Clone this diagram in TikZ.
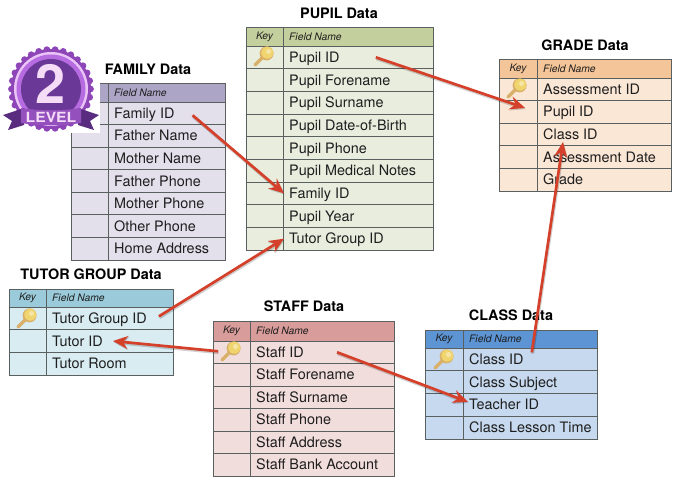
\documentclass[tikz,border=0pt]{standalone}
\usepackage{fontspec}
\setmainfont{TeX Gyre Heros}
\usetikzlibrary{arrows.meta,calc}
\definecolor{gridc}{HTML}{5A5F5F}
\definecolor{linkred}{HTML}{D5402A}
\definecolor{txt}{HTML}{1E1E1E}
\definecolor{keygold}{HTML}{F0D56E}
\definecolor{keytan}{HTML}{D9B06A}
\definecolor{HdrP}{HTML}{C3CF9C}\definecolor{RowP}{HTML}{E9EDDE}
\definecolor{HdrF}{HTML}{ADA5C6}\definecolor{RowF}{HTML}{E3E0EC}
\definecolor{HdrG}{HTML}{F4C598}\definecolor{RowG}{HTML}{FBE7D6}
\definecolor{HdrT}{HTML}{9BCBDA}\definecolor{RowT}{HTML}{D8ECF2}
\definecolor{HdrS}{HTML}{D89C9A}\definecolor{RowS}{HTML}{F1DDDB}
\definecolor{HdrC}{HTML}{5C94D4}\definecolor{RowC}{HTML}{C7D9EF}
\definecolor{bdgA}{HTML}{B66BE0}\definecolor{bdgB}{HTML}{EBC4F7}
\definecolor{bdgC}{HTML}{8D45B8}\definecolor{bdgD}{HTML}{6A3896}
\definecolor{bdgE}{HTML}{5A2C80}\definecolor{bdgL}{HTML}{F5DDF8}
\definecolor{bdgR}{HTML}{9450BC}
\tikzset{
  x=1pt,y=-1pt,
  fieldtxt/.style={anchor=west,inner sep=0pt,text height=13pt,text depth=3pt,font=\fontsize{14.4}{16}\selectfont,text=txt},
  headtxt/.style={inner sep=0pt,font=\fontsize{10.3}{11}\selectfont\itshape,text=txt},
  titletxt/.style={inner sep=0pt,font=\fontsize{14.4}{16}\selectfont\bfseries,text=black},
  gridline/.style={draw=gridc,line width=0.9pt},
  link/.style={draw=linkred,line width=2.7pt,-{Stealth[length=15pt,width=13pt]},
    preaction={draw=black,opacity=0.18,line width=3.4pt,transform canvas={xshift=0.6pt,yshift=-1.2pt}}},
  keyicon/.pic={
    \draw[line width=3.4pt,color=keytan,line cap=round] (-1,1) -- (-9,9);
    \fill[keytan] (2.6,-2.6) circle (7pt);
    \fill[keygold] (3.3,-3.3) circle (6pt);
    \fill[white,opacity=0.4] (4.5,-4.5) circle (2.5pt);
  }
}
% name, x0, xkey, x1, ytop, yhead, header colour, row colour; \ybot, \nrows, \fields set before
\newcommand{\datatable}[8]{%
  \fill[#7] (#2,#5) rectangle (#4,#6);
  \fill[#8] (#2,#6) rectangle (#4,\ybot);
  \pgfmathsetmacro{\rowh}{(\ybot-#6)/\nrows}
  \foreach \f [count=\i] in \fields {
    \pgfmathsetmacro{\yc}{#6+(\i-0.5)*\rowh}
    \pgfmathsetmacro{\yl}{#6+\i*\rowh}
    \draw[gridline] (#2,\yl) -- (#4,\yl);
    \node[fieldtxt] (#1-\i) at ({#3+6},\yc) {\f};
  }
  \draw[gridline] (#2,#5) rectangle (#4,\ybot);
  \draw[gridline] (#2,#6) -- (#4,#6);
  \draw[gridline] (#3,#5) -- (#3,\ybot);
  \node[headtxt] (#1-key) at ({(#2+#3)/2},{(#5+#6)/2}) {Key};
  \node[headtxt,anchor=west] (#1-head) at ({#3+6},{(#5+#6)/2}) {Field Name};
}
\begin{document}
\begin{tikzpicture}
\useasboundingbox (0,0) rectangle (680,485);
\fill[white] (0,0) rectangle (680,485);

\def\ybot{250}\def\nrows{9}
\def\fields{Pupil ID,Pupil Forename,Pupil Surname,Pupil Date-of-Birth,Pupil Phone,Pupil Medical Notes,Family ID,Pupil Year,Tutor Group ID}
\datatable{pupil}{246}{283}{433}{27}{46}{HdrP}{RowP}
\node[titletxt] (pupil-title) at (339,13) {PUPIL Data};
\pic at (264,56) {keyicon};

\def\ybot{260}\def\nrows{7}
\def\fields{Family ID,Father Name,Mother Name,Father Phone,Mother Phone,Other Phone,Home Address}
\datatable{family}{71}{108}{225}{83}{102}{HdrF}{RowF}
\node[titletxt] (family-title) at (148,69) {FAMILY Data};

\def\ybot{191}\def\nrows{5}
\def\fields{Assessment ID,Pupil ID,Class ID,Assessment Date,Grade}
\datatable{grade}{499}{537}{671}{59}{78}{HdrG}{RowG}
\node[titletxt] (grade-title) at (585,45) {GRADE Data};
\pic at (517,88) {keyicon};

\def\ybot{375}\def\nrows{3}
\def\fields{Tutor Group ID,Tutor ID,Tutor Room}
\datatable{tutor}{9}{46}{173}{289}{307}{HdrT}{RowT}
\node[titletxt] (tutor-title) at (91,274) {TUTOR GROUP Data};
\pic at (27,318) {keyicon};

\def\ybot{476}\def\nrows{6}
\def\fields{Staff ID,Staff Forename,Staff Surname,Staff Phone,Staff Address,Staff Bank Account}
\datatable{staff}{213}{250}{394}{321}{341}{HdrS}{RowS}
\node[titletxt] (staff-title) at (304,306) {STAFF Data};
\pic at (231,351) {keyicon};

\def\ybot{439}\def\nrows{4}
\def\fields{Class ID,Class Subject,Teacher ID,Class Lesson Time}
\datatable{class}{425}{463}{597}{330}{348}{HdrC}{RowC}
\node[titletxt] (class-title) at (511,315) {CLASS Data};
\pic at (444,359) {keyicon};

% badge
\fill[white] (0,46) rectangle (100,133);
\foreach \a in {0,12,...,348} \fill[bdgC] ({51+39.5*cos(\a)},{89+39.5*sin(\a)}) circle (3.4pt);
\fill[bdgC] (51,89) circle (40pt);
\fill[bdgB] (51,89) circle (37pt);
\fill[bdgA] (51,89) circle (34.5pt);
\fill[bdgD] (51,89) circle (30pt);
\node[inner sep=0pt,text=bdgL,font=\fontsize{54}{56}\selectfont\bfseries] (badge-two) at (51,84) {2};
\fill[bdgE] (3,115) -- (24,108) -- (24,125) -- (8,130) -- (12,121) -- cycle;
\fill[bdgE] (99,115) -- (78,108) -- (78,125) -- (94,130) -- (90,121) -- cycle;
\fill[bdgR] (21,108) .. controls (40,111) and (62,111) .. (81,108) -- (81,123) .. controls (62,126) and (40,126) .. (21,123) -- cycle;
\node[inner sep=0pt,text=bdgL,xscale=1.12,font=\fontsize{14}{15}\selectfont\bfseries] (badge-level) at (51,117) {LEVEL};

% connectors
\draw[link] ([xshift=36pt]pupil-1.east) -- ([xshift=-18pt,yshift=4pt]grade-2.west);
\draw[link] ([xshift=18pt,yshift=-2pt]family-1.east) -- ([xshift=-5pt]pupil-7.west);
\draw[link] ([xshift=12pt,yshift=2pt]tutor-1.east) -- ([xshift=-5pt]pupil-9.west);
\draw[link] ([xshift=-38pt,yshift=1pt]staff-1.west) -- ([xshift=10pt]tutor-2.east);
\draw[link] ([xshift=33pt]staff-1.east) -- ([xshift=-1pt,yshift=3pt]class-3.west);
\draw[link] ([xshift=8pt,yshift=7pt]class-1.east) -- ([xshift=20pt,yshift=-7.5pt]grade-3.west);
\end{tikzpicture}
\end{document}
